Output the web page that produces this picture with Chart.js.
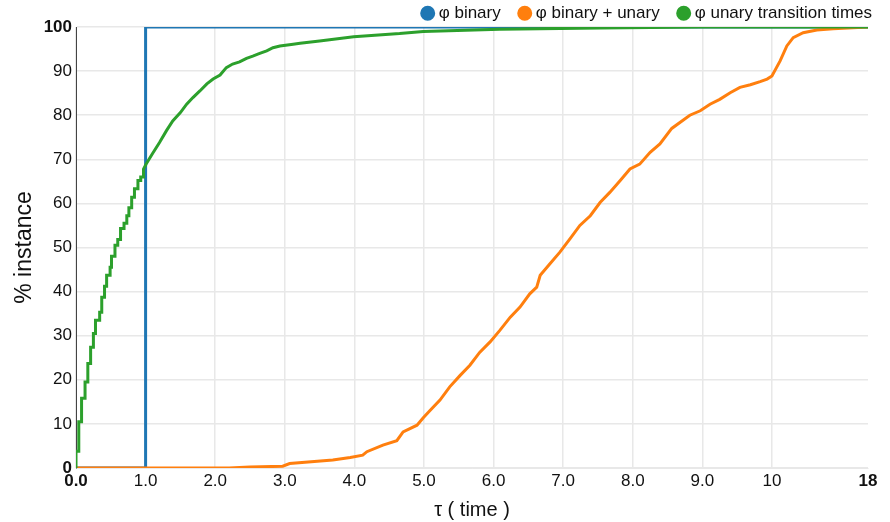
<!DOCTYPE html>
<html>
<head>
<meta charset="utf-8">
<script src="https://cdn.jsdelivr.net/npm/chart.js@4/dist/chart.umd.min.js"></script>
<style>
  html, body { margin: 0; padding: 0; background: #fff; }
  #wrap { width: 890px; height: 522px; position: relative; }
</style>
</head>
<body>
<div id="wrap"><canvas id="c" width="890" height="522"></canvas></div>
<script>
// ---- data (real time τ, % instance) ----
const seriesNames = ['φ binary', 'φ binary + unary', 'φ unary transition times'];
const seriesColors = ['#1f77b4', '#ff7f0e', '#2ca02c'];

const binaryT = [0, 1, 1, 18];
const binaryV = [0, 0, 100, 100];

const binUnaryT = [0, 2.2, 2.5, 2.97, 3.07, 3.69, 3.94, 4.12, 4.18, 4.41, 4.61, 4.70, 4.90, 4.99, 5.09,
  5.23, 5.37, 5.52, 5.66, 5.80, 5.95, 6.09, 6.24, 6.38, 6.52, 6.62, 6.67, 6.81, 6.95, 7.10, 7.24,
  7.39, 7.53, 7.67, 7.82, 7.96, 8.10, 8.25, 8.39, 8.56, 8.82, 8.97, 9.11, 9.25, 9.40, 9.54, 9.69,
  9.83, 9.93, 10.0, 10.68, 11.24, 11.77, 12.6, 13.74, 15.1, 18];
const binUnaryV = [0, 0, 0.2, 0.4, 1.0, 1.8, 2.4, 2.9, 3.7, 5.2, 6.2, 8.2, 9.7, 11.4, 13.1,
  15.4, 18.4, 21, 23.3, 26.2, 28.6, 31.2, 34.2, 36.5, 39.5, 41, 43.7, 46.3, 48.9, 52, 55,
  57.2, 60.2, 62.5, 65.2, 67.8, 68.9, 71.6, 73.5, 77, 80, 81, 82.5, 83.6, 85.1, 86.3, 86.9,
  87.6, 88.2, 88.9, 92.3, 95.7, 97.6, 98.7, 99.3, 99.6, 100];

// early part (τ < 1) read as discrete steps
const unaryT = [0, 0, 0.04, 0.08, 0.13, 0.17, 0.21, 0.25, 0.28, 0.34, 0.37, 0.41, 0.44, 0.49, 0.51,
  0.56, 0.60, 0.64, 0.69, 0.73, 0.76, 0.80, 0.84, 0.89, 0.93, 0.97, 1.01, 1.10, 1.20, 1.30, 1.39,
  1.50, 1.59, 1.68, 1.78, 1.88, 1.97, 2.07, 2.16, 2.25, 2.35, 2.45, 2.54, 2.64, 2.74, 2.83, 2.93,
  3.12, 3.22, 3.50, 3.99, 4.65, 4.99, 6.09, 7.53, 8.97, 18];
const unaryV = [0, 3.8, 10.5, 15.8, 19.5, 23.7, 27.4, 30.5, 33.5, 35.3, 38.7, 41.2, 43.7, 45.5, 48,
  50.5, 51.8, 54.3, 55.5, 57.2, 59, 61.4, 63.3, 65.2, 66, 67.8, 69, 71.3, 73.8, 76.5, 78.7,
  80.6, 82.5, 84, 85.5, 87.1, 88.2, 89.1, 90.8, 91.6, 92.1, 92.9, 93.4, 94, 94.6, 95.3, 95.7,
  96.1, 96.3, 96.8, 97.8, 98.5, 99, 99.5, 99.8, 100, 100];
const unaryStepUntil = 1.0;

const xTickValues = [0, 1, 2, 3, 4, 5, 6, 7, 8, 9, 10, 18];
const xTickLabels = ['0.0', '1.0', '2.0', '3.0', '4.0', '5.0', '6.0', '7.0', '8.0', '9.0', '10', '18'];
const yTickValues = [0, 10, 20, 30, 40, 50, 60, 70, 80, 90, 100];

// ---- axis transform: linear to 10, last segment (10..18) compressed ----
const LIN_MAX = 10, REAL_MAX = 18, SEG = 1.38;
function toAxis(t) { return t <= LIN_MAX ? t : LIN_MAX + (t - LIN_MAX) * SEG / (REAL_MAX - LIN_MAX); }
const AXIS_MAX = toAxis(REAL_MAX);
function pts(T, V) { return T.map((t, i) => ({ x: toAxis(t), y: V[i] })); }
function stairPts(T, V, until) {
  const out = [];
  T.forEach((t, i) => {
    if (i > 0 && t <= until) out.push({ x: toAxis(t), y: V[i - 1] });
    out.push({ x: toAxis(t), y: V[i] });
  });
  return out;
}

const FONT = "'Liberation Sans', Arial, sans-serif";
const GRID = '#e8e8e8';
const TEXT = '#111';

const legendPlace = {
  id: 'legendPlace',
  afterLayout(chart) {
    const l = chart.legend;
    if (!l) return;
    const dx = 893.5 - l.right;
    l.left += dx; l.right += dx;
    l.top = -16.7;
  }
};

new Chart(document.getElementById('c'), {
  type: 'line',
  data: {
    datasets: [
      { label: seriesNames[0], data: pts(binaryT, binaryV), borderColor: seriesColors[0], backgroundColor: seriesColors[0], borderWidth: 3, pointRadius: 0, order: 2 },
      { label: seriesNames[1], data: pts(binUnaryT, binUnaryV), borderColor: seriesColors[1], backgroundColor: seriesColors[1], borderWidth: 3, pointRadius: 0, order: 1 },
      { label: seriesNames[2], data: stairPts(unaryT, unaryV, unaryStepUntil), borderColor: seriesColors[2], backgroundColor: seriesColors[2], borderWidth: 3, pointRadius: 0, order: 0 }
    ]
  },
  plugins: [legendPlace],
  options: {
    responsive: false,
    animation: false,
    layout: { padding: { left: 0, right: 22, top: 0, bottom: 0 } },
    plugins: {
      tooltip: { enabled: false },
      legend: {
        position: 'top', align: 'end', maxHeight: 27,
        labels: {
          usePointStyle: true, pointStyle: 'circle', boxWidth: 5, boxHeight: 8.5, padding: 21.5,
          color: TEXT, font: { family: FONT, size: 17 },
          sort: (a, b) => a.datasetIndex - b.datasetIndex
        }
      }
    },
    scales: {
      x: {
        type: 'linear', min: 0, max: AXIS_MAX,
        afterBuildTicks: (s) => { s.ticks = xTickValues.map(v => ({ value: toAxis(v) })); },
        afterFit: (s) => { s.height = 54; },
        ticks: {
          autoSkip: false, maxRotation: 0, color: TEXT, padding: 3,
          callback: (v, i) => xTickLabels[i],
          font: (ctx) => ({ family: FONT, size: 17, weight: (ctx.index === 0 || ctx.index === xTickValues.length - 1) ? 'bold' : 'normal' })
        },
        grid: { color: (ctx) => (ctx.index === xTickValues.length - 1 ? 'rgba(0,0,0,0)' : GRID), lineWidth: 1.5, drawTicks: false },
        border: { color: GRID },
        title: { display: true, text: 'τ ( time )', color: TEXT, font: { family: FONT, size: 20 }, padding: { top: 3.5, bottom: 0 } }
      },
      y: {
        type: 'linear', min: 0, max: 100,
        afterBuildTicks: (s) => { s.ticks = yTickValues.map(v => ({ value: v })); },
        afterFit: (s) => { s.width = 76; },
        ticks: {
          color: TEXT, padding: 4,
          font: (ctx) => ({ family: FONT, size: 17, weight: (ctx.tick && (ctx.tick.value === 0 || ctx.tick.value === 100)) ? 'bold' : 'normal' })
        },
        grid: { color: GRID, lineWidth: 1.5, drawTicks: false },
        border: { color: '#444', width: 1 },
        title: { display: true, text: '% instance', color: TEXT, font: { family: FONT, size: 23 }, padding: { top: 11, bottom: 0 } }
      }
    }
  }
});
</script>
</body>
</html>
